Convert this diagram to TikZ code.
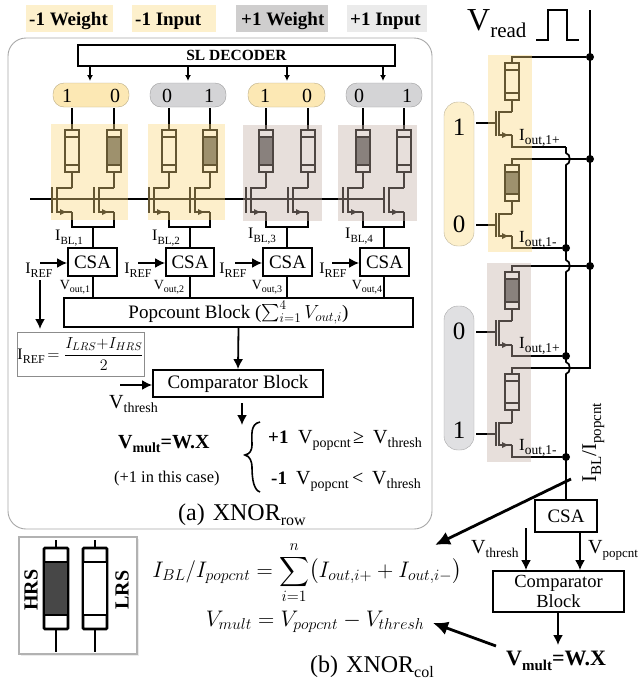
\RequirePackage{fix-cm}
\documentclass[tikz,border=0pt]{standalone}
\usepackage{amsmath}
\usepackage{fontspec}
\setmainfont{Liberation Serif}
\usetikzlibrary{arrows.meta}
\definecolor{legY}{HTML}{FDF0CC}
\definecolor{legG}{HTML}{CFCECE}
\definecolor{legL}{HTML}{EBEBEB}
\definecolor{pillY}{HTML}{FCE8B4}
\definecolor{pillG}{HTML}{D4D4D6}
\definecolor{pillL}{HTML}{E0E0E2}
\definecolor{ovY}{RGB}{250,217,127}
\definecolor{ovB}{RGB}{197,177,167}
\definecolor{frameG}{HTML}{A8A8A8}
\newcommand{\FS}[1]{\fontsize{#1}{#1}\selectfont}
% main size, sub size, base text, sub text
\newcommand{\IS}[4]{{\FS{#1}#3\raisebox{-.24em}{\FS{#2}#4}}}
\newcommand{\resis}[4]{%
  \draw[wire,fill=white] ({#1-7},#2) rectangle ({#1+7},#3);
  \draw[wire,fill=#4] ({#1-7},{#2+7}) rectangle ({#1+7},{#3-7});}
% wire x, top y, bottom y, gate x, channel x
\newcommand{\trans}[5]{%
  \draw[wire] (#1,#2) -- (#5,#2) ({#5},{#2-1}) -- ({#5},{#3+1}) ({#4},{#2-1}) -- ({#4},{#3+1});
  \draw[wire] (#5,#3) -- (#1,#3);
  \fill ({#5+3},{#3-3}) -- ({#5+9},#3) -- ({#5+3},{#3+3}) -- cycle;}
\tikzset{
  wire/.style={line width=1.7pt,draw=black},
  blk/.style={draw=black,line width=1.8pt,inner sep=0pt,fill=white,align=center},
  txt/.style={inner sep=0pt,anchor=base west},
  ctr/.style={inner sep=0pt,anchor=center},
  arr/.style={line width=1.8pt,-{Latex[length=10pt,width=10pt]}},
  smallarr/.style={line width=1.5pt,-{Latex[length=6pt,width=6pt]}},
  bigarr/.style={line width=2.8pt,-{Latex[length=15pt,width=14pt]}},
  dot/.style={circle,fill=black,inner sep=0pt,minimum size=8pt},
  pillT/.style={rounded corners=11pt,draw=#1!75!black,line width=.4pt},
}
\begin{document}
\begin{tikzpicture}[x=1pt,y=-1pt]
\useasboundingbox (0,0) rectangle (640,683);
\fill[white] (0,0) rectangle (640,683);

% legend
\fill[legY] (26,5) rectangle (113,32);
\fill[legY] (132,5) rectangle (216,32);
\fill[legG] (236,5) rectangle (328,32);
\fill[legL] (347,5) rectangle (427,32);
\node[txt] (lg1) at (29,25) {\FS{19}\bfseries -1 Weight};
\node[txt] (lg2) at (135,25) {\FS{19}\bfseries -1 Input};
\node[txt] (lg3) at (241,25) {\FS{19}\bfseries +1 Weight};
\node[txt] (lg4) at (350,25) {\FS{19}\bfseries +1 Input};

% frame (a)
\draw[frameG,line width=.9pt,rounded corners=18pt] (8,38) rectangle (432,529);

% SL decoder
\node[blk,minimum width=317pt,minimum height=21pt] (sl) at (236.5,55.5) {\FS{15.5}\bfseries SL DECODER};

% pills top
\foreach \n/\xa/\xb/\cc in {1/53/129/pillY,2/150/226/pillG,3/248/325/pillY,4/346/422/pillG}{
  \filldraw[pillT=\cc,fill=\cc] (\xa,83) rectangle (\xb,107);
}
\foreach \n/\xx in {1/90,2/188,3/287,4/383}{
  \coordinate (sla\n) at (\xx,81);
  \draw[smallarr] (sl.south -| sla\n) -- (sla\n);
}
\foreach \n/\xx/\dd in {a/67/1,b/115/0,c/167/0,d/209/1,e/265/1,f/307/0,g/359/0,h/407/1}{
  \node[ctr] (dg\n) at (\xx,96) {\FS{20}\dd};
}

% word line
\coordinate (wlS) at (30,199);
\coordinate (wlE) at (384,199);
\draw[wire] (wlS) -- (wlE);

% top bit cells
\foreach \xx/\ff in {72/white,114/black!62,169/white,210/black!62,266/black!62,308/white,363/black!62,404/white}{
  \draw[wire] (\xx,108) -- (\xx,130);
  \resis{\xx}{130}{172}{\ff}
  \draw[wire] (\xx,172) -- (\xx,188);
  \trans{\xx}{188}{212}{\xx-20}{\xx-15}
}
\foreach \n/\xa/\xb/\xm in {1/72/114/93,2/169/210/190,3/266/308/287,4/363/404/384}{
  \draw[wire] (\xa,212) -- (\xa,227) -- (\xb,227) -- (\xb,212);
}
% CSA row
\node[blk,minimum width=49pt,minimum height=28pt] (csa1) at (92.5,262) {\FS{19}CSA};
\node[blk,minimum width=48pt,minimum height=28pt] (csa2) at (190,262) {\FS{19}CSA};
\node[blk,minimum width=49pt,minimum height=28pt] (csa3) at (287.5,262) {\FS{19}CSA};
\node[blk,minimum width=49pt,minimum height=28pt] (csa4) at (384.5,262) {\FS{19}CSA};
\node[blk,minimum width=349pt,minimum height=29pt] (pop) at (238.5,312.5) {\FS{19}Popcount Block ($\sum_{i=1}^{4} V_{out,i}$)};
\foreach \n/\xm in {1/93,2/190,3/287,4/384}{
  \coordinate (cm\n) at (\xm,227);
  \draw[wire] (cm\n) -- (cm\n |- csa\n.north);
  \draw[wire] (csa\n.south -| cm\n) -- (pop.north -| cm\n);
}
% overlays top
\fill[ovY,opacity=.4] (51,124) rectangle (128,220);
\fill[ovY,opacity=.4] (148,124) rectangle (225,220);
\fill[ovB,opacity=.4] (243,125) rectangle (322,221);
\fill[ovB,opacity=.4] (338,125) rectangle (417,221);

\node[ctr] (ibl1) at (69,238) {\IS{16}{11}{I}{BL,1}};
\node[ctr] (ibl2) at (166,238) {\IS{16}{11}{I}{BL,2}};
\node[ctr] (ibl3) at (262,236) {\IS{16}{11}{I}{BL,3}};
\node[ctr] (ibl4) at (359,236) {\IS{16}{11}{I}{BL,4}};
\foreach \n/\xx in {1/39,2/138,3/233,4/333}{
  \node[ctr] (iref\n) at (\xx,270) {\IS{16}{12}{I}{REF}};
}
\coordinate (ra1) at (40,263);
\coordinate (ra2) at (138,263);
\coordinate (ra3) at (235,263);
\coordinate (ra4) at (332,263);
\foreach \n in {1,2,3,4}{
  \draw[arr] (ra\n) -- (ra\n -| csa\n.west);
}
\foreach \n/\xx in {1/75,2/169,3/267,4/367}{
  \node[ctr] (vo\n) at (\xx,287) {\IS{14}{10}{V}{out,\n}};
}
% Iref formula
\node[draw=black!45,line width=.8pt,inner sep=0pt,minimum width=127pt,minimum height=44pt] (ifm) at (80.5,354)
  {\FS{16}\raisebox{0pt}{\IS{16}{12}{I}{REF}}$\,=\dfrac{I_{LRS}{+}I_{HRS}}{2}$};
\coordinate (ifs) at (40,280);
\draw[arr] (ifs) -- (40,329);

% comparator
\node[blk,minimum width=170pt,minimum height=27pt] (cmp) at (238,383.5) {\FS{19}Comparator Block};
\draw[arr] (pop.south) -- (cmp.north);
\coordinate (vth) at (120,385);
\draw[arr] (vth) -- (vth -| cmp.west);
\node[txt] (vthl) at (109,408) {\IS{20}{14}{V}{thresh}};
\coordinate (oa) at (242,403);
\coordinate (ob) at (242,425);
\draw[arr] (oa) -- (ob);
\node[txt] (vm) at (118,448) {\bfseries\IS{20}{14}{V}{mult}{\FS{20}=W.X}};
\node[txt] (cs) at (114,482) {\FS{16.4}(+1 in this case)};
\draw[line width=1.6pt] (260,422) .. controls (250,424) and (252,435) .. (252,445) .. controls (252,450) and (250,454) .. (245,455) .. controls (250,456) and (252,462) .. (252,467) .. controls (252,480) and (254,490) .. (260,492);
\node[txt] (p1) at (268,443) {\FS{19}\bfseries +1};
\node[txt] (p2) at (298,443) {\IS{20}{14}{V}{popcnt}};
\node[txt] (p3) at (353,443) {\FS{20}≥};
\node[txt] (p4) at (373,443) {\IS{20}{14}{V}{thresh}};
\node[txt] (m1) at (271,484) {\FS{19}\bfseries -1};
\node[txt] (m2) at (296,484) {\IS{20}{14}{V}{popcnt}};
\node[txt] (m3) at (352,484) {\FS{20}<};
\node[txt] (m4) at (372,484) {\IS{20}{14}{V}{thresh}};
\node[txt] (capa) at (178,520) {\FS{24}(a)\hspace{8pt}\IS{24}{16}{XNOR}{row}};

% right column: V read
\node[txt] (vr) at (467,30) {\IS{32}{21}{V}{read}};
\draw[line width=1.5pt] (536,40) -- (548,40) -- (548,10) -- (567,10) -- (567,40) -- (579,40);

% right pills
\filldraw[pillT=legY,fill=legY,rounded corners=14pt] (444,102) rectangle (474,246);
\filldraw[pillT=pillL,fill=pillL,rounded corners=14pt] (444,306) rectangle (474,450);
\node[ctr] (rd1) at (459,127) {\FS{25}1};
\node[ctr] (rd2) at (459,224) {\FS{25}0};
\node[ctr] (rd3) at (459,331) {\FS{25}0};
\node[ctr] (rd4) at (459,430) {\FS{25}1};

% main read line and junctions
\node[dot] (j1) at (590,57) {};
\node[dot] (j2) at (590,159) {};
\node[dot] (j3) at (590,266) {};
\node[dot] (k1) at (566,248) {};
\node[dot] (k2) at (566,356) {};
\node[dot] (k3) at (566,457) {};
\coordinate (vtop) at (590,10);
\coordinate (vend) at (590,368);
\draw[wire] (vtop) -- (vend) -- (512,368) -- (512,374);
\draw[wire] (j1) -- (512,57) -- (512,63);
\draw[wire] (j2) -- (512,159) -- (512,165);
\draw[wire] (j3) -- (512,266) -- (512,272);
% cells
\foreach \tp/\bt/\gy/\tt/\bb/\ff in {63/100/123/112/135/white,165/201/225/214/236/black!62,272/309/332/321/345/black!62,374/410/434/423/445/white}{
  \resis{512}{\tp}{\bt}{\ff}
  \draw[wire] (512,\bt) -- (512,\tt);
  \trans{512}{\tt}{\bb}{496}{499}
  \draw[wire] (476,\gy) -- (496,\gy);
}
% sources
\coordinate (s1) at (566,147);
\draw[wire] (512,135) -- (512,147) -- (s1);
\draw[wire] (512,236) -- (512,248) -- (k1);
\draw[wire] (512,345) -- (512,356) -- (k2);
\draw[wire] (512,445) -- (512,457) -- (k3);
% bit line with bumps
\node[blk,minimum width=62pt,minimum height=32pt] (csar) at (566,516) {\FS{19}CSA};
\draw[wire] (s1) -- (566,153) .. controls (571,154) and (571,164) .. (566,165) -- (566,260) .. controls (571,261) and (571,271) .. (566,272) -- (566,362) .. controls (571,363) and (571,373) .. (566,374) -- (csar.north -| s1);
% overlays right
\fill[ovY,opacity=.4] (488,55) rectangle (532,252);
\fill[ovB,opacity=.4] (487,263) rectangle (531,462);

\node[txt] (io1) at (519,140) {\IS{17}{13.5}{I}{out,1+}};
\node[txt] (io2) at (519,242) {\IS{17}{13.5}{I}{out,1-}};
\node[txt] (io3) at (519,348) {\IS{17}{13.5}{I}{out,1+}};
\node[txt] (io4) at (519,450) {\IS{17}{13.5}{I}{out,1-}};
\node[txt,rotate=90] (ibp) at (596,483) {\IS{21}{15}{I}{BL}{\FS{21}/}\IS{21}{15}{I}{popcnt}};

% lower right
\node[blk,minimum width=131pt,minimum height=41pt,text width=125pt] (cmpr) at (558.5,591.5) {\FS{18.5}Comparator\\[3pt]Block};
\coordinate (vpx) at (580,532);
\draw[arr] (csar.south -| vpx) -- (cmpr.north -| vpx);
\coordinate (vtx) at (526,528);
\draw[arr] (vtx) -- (cmpr.north -| vtx);
\node[txt] (vtl) at (471,553) {\IS{20}{13.5}{V}{thresh}};
\node[txt] (vpl) at (588,553) {\IS{20}{13}{V}{popcnt}};
\coordinate (vmt) at (558,645);
\draw[arr] (cmpr.south -| vmt) -- (vmt);
\node[txt] (vmr) at (506,665) {\bfseries\IS{22}{15}{V}{mult}{\FS{22}=W.X}};

% big arrows
\coordinate (ba) at (571,479);
\coordinate (bb) at (435,545);
\draw[bigarr] (ba) -- (bb);
\coordinate (bc) at (496,646);
\coordinate (bd) at (433,623);
\draw[bigarr] (bc) -- (bd);

% equations
\node[ctr] (eq1) at (307,573) {\FS{22.5}$\displaystyle I_{BL}/I_{popcnt}=\sum_{i=1}^{n}\bigl(I_{out,i+}+I_{out,i-}\bigr)$};
\node[ctr] (eq2) at (315,622) {\FS{22.5}$V_{mult}=V_{popcnt}-V_{thresh}$};
\node[txt] (capb) at (310,672) {\FS{24}(b)\hspace{8pt}\IS{24}{16}{XNOR}{col}};

% inset
\fill[black!8] (21,539) rectangle (139,656);
\filldraw[fill=white,draw=black!30,line width=1.2pt] (19,537) rectangle (137,654);
\foreach \xx/\ff in {56/black!72,95/white}{
  \draw[line width=2.2pt] (\xx,540) -- (\xx,652);
  \draw[line width=2.8pt,fill=white,rounded corners=1pt] ({\xx-12},548) rectangle ({\xx+12},629);
  \draw[line width=2.8pt,fill=\ff] ({\xx-12},562) rectangle ({\xx+12},615);
}
\node[ctr,rotate=90] (hrs) at (31,590) {\FS{20}\bfseries HRS};
\node[ctr,rotate=90] (lrs) at (122,590) {\FS{20}\bfseries LRS};
\end{tikzpicture}
\end{document}
